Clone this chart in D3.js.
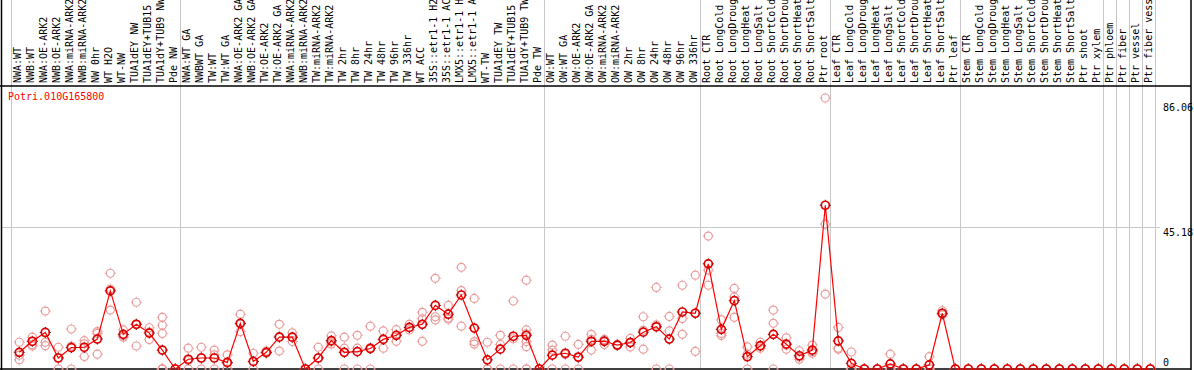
<!DOCTYPE html>
<html>
<head>
<meta charset="utf-8">
<script src="https://cdn.jsdelivr.net/npm/d3@7"></script>
<style>
  body { margin: 0; background: #fff; }
  text { font-family: "DejaVu Sans Mono", monospace; font-size: 10px; }
</style>
</head>
<body>
<svg id="chart" width="1194" height="370"></svg>
<script>
const geneId = "Potri.010G165800";

const sampleLabels = [
  "NWA:WT", "NWB:WT", "NWA:OE-ARK2", "NWB:OE-ARK2", "NWA:miRNA-ARK2", "NWB:miRNA-ARK2",
  "NW 0hr", "WT H2O", "WT-NW", "TUA1dEY NW", "TUA1dEY+TUB15", "TUA1dY+TUB9 NW", "Pde NW",
  "NWA:WT GA", "NWBWT GA", "TW:WT", "TW:WT GA", "NWA:OE-ARK2 GA", "NWB:OE-ARK2 GA",
  "TW:OE-ARK2", "TW:OE-ARK2 GA", "NWA:miRNA-ARK2", "NWB:miRNA-ARK2", "TW:miRNA-ARK2",
  "TW:miRNA-ARK2", "TW 2hr", "TW 8hr", "TW 24hr", "TW 48hr", "TW 96hr", "TW 336hr",
  "WT ACC", "35S::etr1-1 H2O", "35S::etr1-1 ACC", "LMX5::etr1-1 H2O", "LMX5::etr1-1 ACC",
  "WT-TW", "TUA1dEY TW", "TUA1dEY+TUB15", "TUA1dY+TUB9 TW", "Pde TW",
  "OW:WT", "OW:WT GA", "OW:OE-ARK2", "OW:OE-ARK2 GA", "OW:miRNA-ARK2", "OW:miRNA-ARK2",
  "OW 2hr", "OW 8hr", "OW 24hr", "OW 48hr", "OW 96hr", "OW 336hr",
  "Root CTR", "Root LongCold", "Root LongDrought", "Root LongHeat", "Root LongSalt",
  "Root ShortCold", "Root ShortDrought", "Root ShortHeat", "Root ShortSalt", "Ptr root",
  "Leaf CTR", "Leaf LongCold", "Leaf LongDrought", "Leaf LongHeat", "Leaf LongSalt",
  "Leaf ShortCold", "Leaf ShortDrought", "Leaf ShortHeat", "Leaf ShortSalt", "Ptr leaf",
  "Stem CTR", "Stem LongCold", "Stem LongDrought", "Stem LongHeat", "Stem LongSalt",
  "Stem ShortCold", "Stem ShortDrought", "Stem ShortHeat", "Stem ShortSalt",
  "Ptr shoot", "Ptr xylem", "Ptr phloem", "Ptr fiber", "Ptr vessel", "Ptr fiber vessel"
];

const meanValues = [
  5.3, 8.8, 11.6, 3.5, 6.8, 6.9, 9.5, 24.8, 11.0, 14.2, 11.4, 6.0, 0,
  3.1, 3.5, 3.5, 2.1, 14.5, 2.4, 5.3, 10.1, 10.1, 0, 3.5, 9.0, 5.3, 5.5, 6.5,
  9.4, 10.7, 13.2, 14.2, 20.2, 17.4, 23.5, 13.0, 2.9, 6.3, 10.4, 10.7, 0,
  4.4, 5.0, 3.8, 8.8, 8.8, 7.6, 8.4, 11.7, 13.4, 9.5, 18.1, 17.7,
  33.4, 12.6, 21.7, 3.9, 7.4, 11.0, 7.9, 4.2, 6.0, 52.0,
  8.9, 1.8, 0, 0, 1.6, 0, 0, 1.3, 17.7, 0,
  0, 0, 0, 0, 0, 0, 0, 0, 0, 0, 0, 0, 0, 0, 0
];

const replicateValues = [
  [8.5, 4.4, 2.9], [10.1, 7.7, 7.3], [18.4, 8.5, 7.4], [6.9, 3.6, 0], [12.7, 7.3, 0],
  [9.0, 8.0, 4.0], [11.9, 11.3, 4.7], [30.4, 25.4, 18.7], [12.4, 10.1, 10.5],
  [21.2, 14.2, 7.3], [13.1, 11.7, 9.4], [16.4, 13.9, 11.3, 0, 0, 0, 0], [0, 0, 0],
  [6.6, 2.7, 0], [6.9, 3.6, 0], [6.0, 4.5, 0], [4.5, 1.8, 0], [17.4, 14.3, 11.9],
  [5.0, 2.3, 0], [5.7, 5.2, 5.0], [14.2, 10.4, 5.7], [11.5, 10.1, 8.7], [0, 0, 0],
  [6.9, 3.6, 0], [10.5, 8.6, 7.9], [10.1, 6.6, 0], [10.7, 6.6, 0], [13.6, 6.8, 0],
  [12.1, 9.5, 6.6], [12.5, 10.8, 8.8], [14.2, 13.1, 12.4], [18.0, 15.9, 8.8],
  [28.8, 16.6, 15.6], [20.2, 16.2, 15.8], [32.3, 24.9, 13.6], [22.4, 8.7, 7.9],
  [8.5, 0, 0], [10.7, 7.8, 0], [21.6, 9.6, 0], [28.2, 12.4, 11.2, 8.7, 7.1, 0, 0], [0, 0, 0],
  [7.6, 6.0, 0], [10.4, 4.6, 0], [7.8, 3.6, 0], [11.0, 9.4, 6.0], [9.4, 9.2, 7.8],
  [7.8, 7.6, 7.4], [9.7, 8.5, 7.0], [16.6, 12.3, 6.3], [25.9, 14.0, 0], [16.7, 12.1, 0],
  [26.6, 16.0, 11.0], [29.8, 17.7, 5.6],
  [42.2, 31.4, 26.6], [15.6, 11.3, 10.6], [25.6, 22.9, 16.4], [7.0, 4.7, 0],
  [8.5, 7.2, 6.6], [18.7, 14.5, 0], [9.9, 7.6, 6.3], [5.8, 3.8, 3.1], [7.6, 5.5, 5.0],
  [86.06, 46.0, 23.8],
  [13.2, 6.6, 6.3], [5.4, 0, 0], [0, 0, 0], [0, 0, 0], [4.7, 0, 0], [0, 0, 0], [0, 0, 0],
  [3.9, 0, 0], [18.5, 17.4, 17.2], [0, 0, 0],
  [0, 0, 0], [0, 0, 0], [0, 0, 0], [0, 0, 0], [0, 0, 0], [0, 0, 0], [0, 0, 0],
  [0, 0, 0], [0, 0, 0], [0, 0, 0], [0, 0, 0], [0, 0, 0], [0, 0, 0], [0, 0, 0], [0, 0, 0]
];

// index of the first sample after each separator line
const groupBreaks = [0, 13, 41, 53, 63, 73, 84, 85, 86, 87, 88];
const yTicks = [86.06, 45.18, 0];
const gridValue = 45.18;

const height = 370;
const colW = 13;
const plotLeft = 11;
const headerBottom = 86;
const plotBottom = 369;
const rightEdge = 1191;

const svg = d3.select("#chart");

const x = d3.scaleBand()
  .domain(d3.range(sampleLabels.length))
  .range([plotLeft, plotLeft + colW * sampleLabels.length])
  .padding(0);

const y = d3.scaleLinear().domain([0, 86.06]).range([plotBottom, 98]);

const cx = (i) => x(i) + 8.3;
const edge = (k) => (k < sampleLabels.length ? x(k) : x(k - 1) + colW);

// grid
svg.append("g")
  .selectAll("line")
  .data(groupBreaks)
  .join("line")
  .attr("x1", (d) => edge(d) + 0.5)
  .attr("x2", (d) => edge(d) + 0.5)
  .attr("y1", 0)
  .attr("y2", plotBottom)
  .attr("stroke", "#c8c8c8");

svg.append("line")
  .attr("x1", 2).attr("x2", 1160)
  .attr("y1", Math.round(y(gridValue)) + 0.5).attr("y2", Math.round(y(gridValue)) + 0.5)
  .attr("stroke", "#c8c8c8");

// frame
const frame = svg.append("g").attr("stroke", "#000").attr("stroke-width", 1.5);
frame.append("line").attr("x1", 1.5).attr("x2", 1.5).attr("y1", 0).attr("y2", height);
frame.append("line").attr("x1", 0).attr("x2", rightEdge).attr("y1", headerBottom).attr("y2", headerBottom);
frame.append("line").attr("x1", 0).attr("x2", rightEdge).attr("y1", plotBottom).attr("y2", plotBottom);
frame.append("line").attr("x1", rightEdge).attr("x2", rightEdge).attr("y1", 0).attr("y2", height);

// header labels, read bottom to top
svg.append("g")
  .selectAll("text")
  .data(sampleLabels)
  .join("text")
  .attr("transform", (d, i) => `translate(${x(i) + 10},83) rotate(-90)`)
  .attr("text-anchor", "start")
  .attr("fill", "#000")
  .text((d) => d.slice(0, 14));

// title
svg.append("text")
  .attr("x", 8).attr("y", 100)
  .attr("fill", "#ff0000")
  .text(geneId);

// y labels
svg.append("g")
  .selectAll("text")
  .data(yTicks)
  .join("text")
  .attr("x", 1163)
  .attr("y", (d) => (d === 0 ? plotBottom - 3 : y(d) + (d === gridValue ? 9 : 13)))
  .attr("fill", "#000")
  .text((d) => d);

const ticks = "M0,-5.5V-4.5M0,4.5V5.5M-5.5,0H-4.5M4.5,0H5.5";

// replicates
const reps = [];
replicateValues.forEach((vals, i) => vals.forEach((v) => reps.push({ i, v })));
const repG = svg.append("g").attr("stroke", "#eb9a9a").attr("fill", "none").attr("stroke-width", 1.2);
repG.selectAll("circle")
  .data(reps)
  .join("circle")
  .attr("cx", (d) => cx(d.i))
  .attr("cy", (d) => y(d.v))
  .attr("r", 4);
repG.selectAll("path")
  .data(reps)
  .join("path")
  .attr("stroke-width", 1)
  .attr("transform", (d) => `translate(${cx(d.i)},${y(d.v)})`)
  .attr("d", ticks);

// mean line
svg.append("path")
  .datum(meanValues)
  .attr("fill", "none")
  .attr("stroke", "#ff0000")
  .attr("stroke-width", 1.2)
  .attr("d", d3.line().x((d, i) => cx(i)).y((d) => y(d)));

const meanG = svg.append("g").attr("stroke", "#e00000").attr("fill", "none").attr("stroke-width", 1.7);
meanG.selectAll("circle")
  .data(meanValues)
  .join("circle")
  .attr("cx", (d, i) => cx(i))
  .attr("cy", (d) => y(d))
  .attr("r", 4);
meanG.selectAll("path")
  .data(meanValues)
  .join("path")
  .attr("stroke-width", 1)
  .attr("stroke", "#600")
  .attr("transform", (d, i) => `translate(${cx(i)},${y(d)})`)
  .attr("d", ticks);
</script>
</body>
</html>
